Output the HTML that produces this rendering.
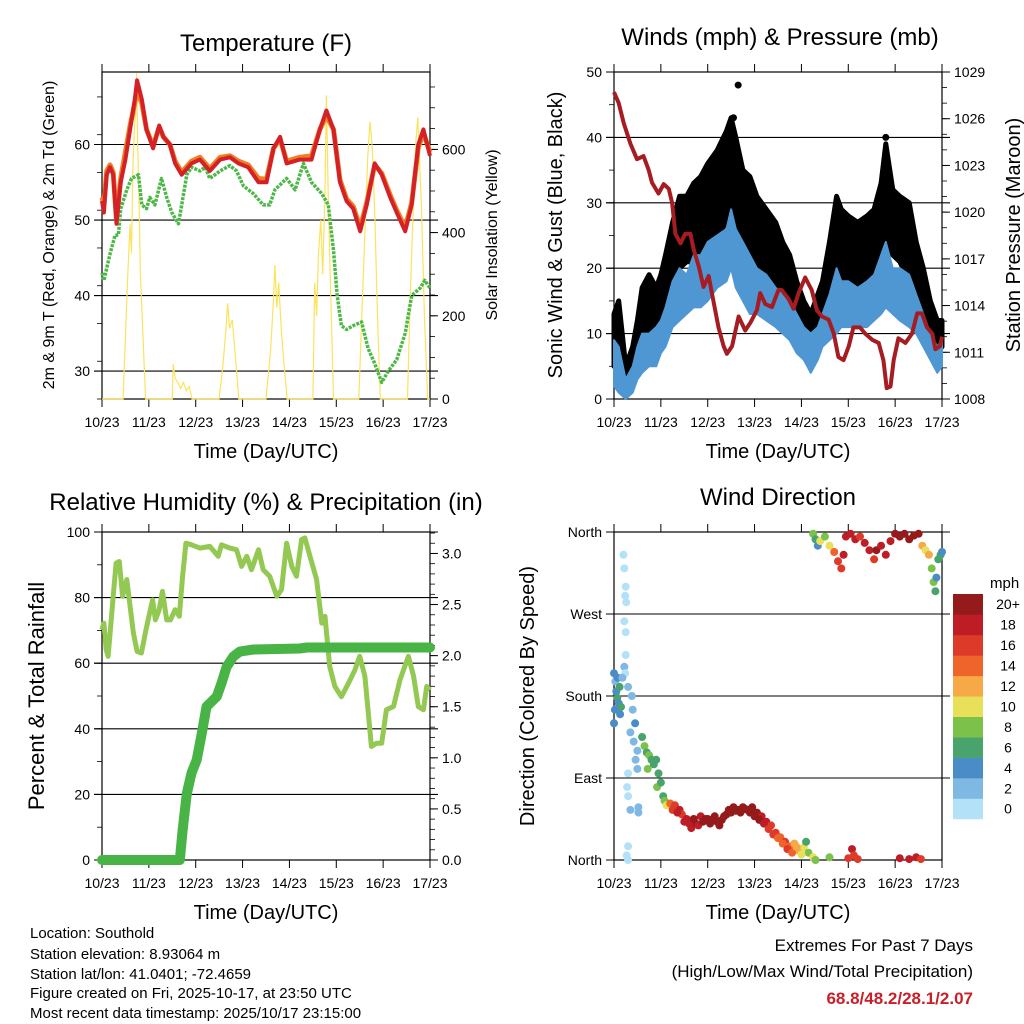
<!DOCTYPE html>
<html><head><meta charset="utf-8"><style>
html,body{margin:0;padding:0;background:#fff}
svg{display:block;font-family:"Liberation Sans",Arial,sans-serif}
</style></head><body>
<svg id="chart" width="1024" height="1024" viewBox="0 0 1024 1024" xmlns="http://www.w3.org/2000/svg">
<text x="266" y="51" font-size="24" text-anchor="middle">Temperature (F)</text>
<text x="780" y="45" font-size="24" text-anchor="middle">Winds (mph) &amp; Pressure (mb)</text>
<text x="266" y="510" font-size="24" text-anchor="middle">Relative Humidity (%) &amp; Precipitation (in)</text>
<text x="778" y="505" font-size="24" text-anchor="middle">Wind Direction</text>
<g font-size="15">
<text x="30" y="938">Location: Southold</text>
<text x="30" y="959">Station elevation: 8.93064 m</text>
<text x="30" y="979">Station lat/lon: 41.0401; -72.4659</text>
<text x="30" y="998">Figure created on Fri, 2025-10-17, at 23:50 UTC</text>
<text x="30" y="1018">Most recent data timestamp: 2025/10/17 23:15:00</text>
</g>
<g font-size="17" text-anchor="end">
<text x="973" y="951">Extremes For Past 7 Days</text>
<text x="973" y="977">(High/Low/Max Wind/Total Precipitation)</text>
<text x="973" y="1004" fill="#c8202a" font-weight="bold">68.8/48.2/28.1/2.07</text>
</g>
</svg>
<script>
// ---------- data ----------
const dayLabels=["10/23","11/23","12/23","13/23","14/23","15/23","16/23","17/23"];
const tempTime=[0,.04,.10,.17,.24,.31,.40,.50,.60,.70,.75,.85,.95,1.09,1.22,1.31,1.45,1.56,1.70,1.91,2.09,2.30,2.52,2.73,2.91,3.12,3.34,3.51,3.66,3.80,3.94,4.22,4.47,4.65,4.79,4.94,5.08,5.22,5.36,5.51,5.65,5.82,5.97,6.15,6.29,6.47,6.61,6.75,6.86,7.0];
const temp2m=[52.5,51,56,57,56,49.5,55,58,62,66,68.5,66,62,59.5,62.5,61,60,57.5,56,57.5,58,56.5,58,58.3,57.5,57,55,55,59.5,61,57.5,58,58,62,64.5,62,55,52.5,51.5,48.5,52,57.5,56,53,51,48.5,52,60,62,58.5];
const temp9m=[53,52,56.5,57.3,56.3,50,55.5,59,62.5,65.5,67,65.5,62,59.8,62.3,61,60,57.8,56.3,57.8,58.3,56.8,58.3,58.5,57.8,57.3,55.5,55.4,59.5,60.7,57.8,58.3,58.5,62,63.8,62,55.3,52.8,51.8,49,52.3,57.3,56.2,53.3,51.3,49,52.3,59.6,61.5,59];
const dewTime=[0,.04,.17,.28,.35,.40,.53,.63,.78,.85,.95,1.02,1.13,1.27,1.38,1.49,1.63,1.70,1.81,1.91,2.09,2.20,2.30,2.52,2.73,2.87,3.02,3.23,3.44,3.58,3.69,3.94,4.12,4.30,4.47,4.69,4.83,4.94,5.02,5.11,5.22,5.36,5.54,5.68,5.82,5.97,6.11,6.29,6.47,6.61,6.79,6.89,7.0];
const dewPoint=[43,42,45.5,48,48,51.5,54,55.5,56,52,51.5,53,52,55.5,53,51,49.5,52,56,57,56.5,57,55.5,56.5,57.2,56.5,54.5,53.5,52,52,54,55.5,54,57.5,55,53.5,52,46,40,36,35.5,36,36.5,33,31,28.5,30,31.5,35,40,41,42,41];
const solarTime=[0,.45,.5,.55,.6,.63,.66,.69,.72,.74,.76,.79,.82,.86,.9,.93,1.5,1.52,1.56,1.62,1.68,1.74,1.8,1.86,1.92,2.5,2.58,2.64,2.68,2.72,2.78,2.84,2.92,3.5,3.6,3.66,3.69,3.73,3.77,3.83,3.88,3.95,4.5,4.54,4.58,4.62,4.67,4.71,4.76,4.79,4.83,4.87,4.94,5.48,5.55,5.61,5.67,5.72,5.77,5.82,5.88,5.94,6.52,6.58,6.64,6.7,6.74,6.78,6.82,6.88,6.95,7.0];
const solarVal=[0,0,150,300,420,350,560,640,700,783,620,480,300,190,80,0,0,84,50,40,25,40,20,30,0,0,80,160,230,170,190,110,0,0,120,240,322,220,280,160,90,0,0,280,200,350,430,300,500,730,480,300,0,0,220,400,580,667,600,450,200,0,0,250,450,620,677,560,450,200,0,0];
const presTime=[0,.10,.21,.35,.49,.63,.74,.81,.95,1.06,1.17,1.24,1.31,1.42,1.52,1.63,1.70,1.81,1.91,2.02,2.09,2.23,2.34,2.41,2.52,2.66,2.80,2.91,3.05,3.12,3.23,3.37,3.51,3.58,3.73,3.83,3.94,4.08,4.22,4.33,4.44,4.58,4.69,4.79,4.90,5.01,5.11,5.25,5.36,5.51,5.65,5.75,5.82,5.90,5.97,6.07,6.22,6.36,6.47,6.57,6.68,6.79,6.86,6.96,7.0];
const pressure=[1027.7,1027.0,1025.7,1024.4,1023.4,1023.6,1022.7,1021.9,1021.2,1021.8,1021.5,1020.6,1018.6,1018.0,1018.6,1018.6,1017.6,1016.5,1015.2,1015.9,1014.8,1012.6,1011.4,1010.9,1011.4,1013.3,1012.4,1012.9,1013.7,1014.8,1014.1,1013.9,1015.0,1015.0,1014.4,1013.8,1014.8,1015.8,1015.0,1013.7,1013.3,1013.1,1012.2,1010.7,1010.5,1011.4,1012.6,1012.6,1012.2,1011.8,1011.6,1010.5,1008.7,1008.8,1010.5,1011.9,1011.6,1012.2,1013.5,1013.5,1012.6,1012.2,1011.2,1011.4,1012.0];
const windTime=[0,.1,.25,.4,.5,.6,.75,.9,1.0,1.1,1.25,1.4,1.55,1.7,1.85,2.0,2.2,2.4,2.5,2.6,2.75,2.9,3.05,3.25,3.45,3.6,3.75,3.9,4.05,4.2,4.35,4.45,4.6,4.75,4.85,5.0,5.2,5.4,5.55,5.7,5.8,5.95,6.1,6.3,6.45,6.6,6.75,6.9,7.0];
const windLow=[2,1,0,1,3,4,5,5,7,8,11,12,13,14,14,15,17,18,20,17,15,13,13,12,11,10,9,7,6,4,6,8,9,10,11,11,11,11,12,13,14,13,12,11,10,8,6,4,5];
const windHigh=[9,8,3,5,8,10,10,11,12,14,18,20,19,22,22,24,25,26,29,26,24,22,20,19,17,16,15,13,11,10,11,13,16,20,18,18,17,18,19,22,24,20,20,19,16,13,10,8,9];
const gustLow=[5,7,2,4,8,9,10,9,12,13,17,20,21,21,23,24,25,27,30,27,24,22,20,18,17,15,13,11,9,8,9,11,14,17,18,18,17,18,19,20,25,22,21,18,15,12,9,7,8];
const gustHigh=[13,15,5,8,12,17,19,17,19,22,27,31,31,33,34,36,38,41,43,40,35,34,31,29,27,24,22,18,15,13,16,18,24,31,29,28,27,28,29,33,39,32,31,30,24,20,15,12,12];
const gustOutlierTime=[2.65,2.55,5.8];
const gustOutlierVal=[48,43,40];
const rhTime=[0,.04,.09,.13,.18,.24,.30,.37,.44,.53,.60,.67,.75,.84,.94,1.00,1.08,1.14,1.22,1.29,1.38,1.46,1.56,1.65,1.72,1.79,1.91,2.09,2.30,2.48,2.55,2.73,2.87,2.98,3.09,3.19,3.34,3.44,3.58,3.73,3.83,3.94,4.05,4.15,4.26,4.33,4.44,4.58,4.69,4.76,4.86,4.97,5.11,5.26,5.40,5.50,5.61,5.75,5.86,5.97,6.07,6.22,6.36,6.54,6.65,6.75,6.86,6.93,7.0];
const rhVal=[70.2,72.2,64.1,62.1,70.2,80.4,90.5,91,80.4,85.5,77.3,69.2,63.6,63.1,70.2,74.3,79.3,73.2,76.3,81.9,73.2,73.2,76.3,74.3,86.5,96.6,96.1,95.1,95.6,92.6,96.1,95.1,94.6,89.5,92.6,88.5,94.6,88.5,86.5,80.4,82.4,96.6,89.5,86.5,97.7,98.2,92.6,85.5,72.2,74.3,59,52.9,49.8,53.9,58,62.1,56,34.6,35.6,35.6,45.8,46.8,54.9,62.1,56,46.8,45.8,52.9,51.9];
const rainTime=[0,1.66,1.72,1.81,1.91,2.02,2.13,2.23,2.34,2.45,2.55,2.66,2.80,2.94,3.23,4.22,4.37,7.0];
const rainVal=[0,0,0.29,0.65,0.85,0.98,1.24,1.50,1.55,1.60,1.73,1.89,1.99,2.04,2.06,2.07,2.08,2.08];
const dirTime=[
 0.20,0.22,0.25,0.24,0.26,0.22,0.25,0.25,0.22,0.24,0.30,0.28,0.30,0.35,0.52,0.52,0.30,0.27,0.30,
 0,0.03,0.05,0.07,0.10,0.12,0.15,0.02,0.08,0.0,0.13,0.18,
 0.30,0.38,0.40,0.45,0.35,0.42,0.50,0.50,0.46,
 0.60,0.65,0.70,0.75,0.80,0.85,0.72,0.90,0.95,0.92,1.00,1.05,1.08,1.12,
 1.20,1.30,1.40,1.45,1.55,1.65,1.75,1.85,1.95,2.05,2.15,2.25,2.35,2.45,2.55,2.65,2.75,2.85,2.95,3.05,3.15,3.25,3.35,3.45,3.55,3.65,3.75,3.85,3.95,4.05,4.15,4.25,4.30,4.10,4.60,
 5.00,5.08,5.12,5.20,6.10,6.30,6.45,6.55,
 4.25,4.30,4.35,4.40,4.50,4.60,4.70,4.78,4.85,4.90,4.95,5.05,5.15,5.25,5.35,5.45,5.55,5.60,5.70,5.80,5.90,6.00,6.10,6.20,6.30,6.40,6.50,6.58,6.65,6.72,6.78,6.82,6.86,6.88,6.92,6.97,7.00,
 1.25,1.35,1.5,1.6,1.7,1.8,1.9,2.0,2.1,2.2,2.3,2.4,2.5,2.6,2.7,2.8,2.9,3.0,3.1,3.2,3.3,3.4,3.5,3.6,3.7,3.8,3.9,4.0];
const dirDeg=[
 335,320,300,290,283,262,250,225,212,205,95,80,70,55,58,52,15,5,0,
 205,196,185,178,172,190,168,165,200,150,160,200,
 190,180,165,150,140,130,120,100,110,
 135,125,118,115,110,105,100,110,95,80,85,70,65,60,
 62,60,55,50,45,35,40,48,45,40,48,38,48,55,58,55,58,55,58,52,48,42,38,30,25,20,15,18,10,14,8,3,0,20,3,
 2,12,5,1,2,1,3,1,
 358,352,345,350,355,345,338,328,320,335,355,358,352,355,348,340,330,340,345,335,350,358,355,358,352,356,358,345,340,335,320,305,295,310,330,335,338,
 55,52,42,40,45,38,42,45,44,42,44,50,52,54,52,56,52,48,44,40,34,28,24,18,12,8,14,6];
const dirSpeed=[
 0,0,1,0,0,1,0,1,2,1,1,1,1,2,2,2,0,0,0,
 4,3,5,6,5,6,7,4,4,4,5,3,
 2,3,3,4,2,3,3,2,3,
 7,8,7,8,6,7,8,6,7,9,7,6,8,10,
 14,16,18,16,18,18,20,18,20,20,20,20,20,20,20,20,20,20,20,20,18,18,16,16,14,16,14,12,12,10,8,10,8,6,8,
 16,18,16,16,18,18,18,16,
 8,6,4,10,8,10,14,16,16,18,18,18,18,16,18,18,16,20,18,18,18,20,20,20,20,20,20,12,10,12,8,8,6,4,6,6,4,
 16,18,18,18,20,18,20,20,20,20,20,20,20,20,20,20,20,20,20,18,16,16,14,14,16,14,12,10];
const speedBins=["0","2","4","6","8","10","12","14","16","18","20+"];
const binColors=["#b3e2f8","#7fb9e3","#4a8cc6","#48a36d","#7cc24a","#e7e058","#f6a946","#ef642b","#dd3a29","#bf1d25","#951a1c"];

// ---------- helpers ----------
const NS="http://www.w3.org/2000/svg";
const svg=document.getElementById('chart');
function mk(tag,attrs,parent){const e=document.createElementNS(NS,tag);for(const k in attrs)e.setAttribute(k,attrs[k]);(parent||svg).appendChild(e);return e;}
function txt(s,attrs,parent){const e=mk('text',attrs,parent);e.textContent=s;return e;}
function xScale(p,d){return p.x0+(p.x1-p.x0)*d/7;}
function yScale(p,v,lo,hi){return p.y1-(p.y1-p.y0)*(v-lo)/(hi-lo);}
function pathFrom(p,ts,vs,lo,hi){return ts.map((t,i)=>(i?'L':'M')+xScale(p,t).toFixed(1)+','+yScale(p,vs[i],lo,hi).toFixed(1)).join('');}
function bandFrom(p,ts,a,b,lo,hi){let d=ts.map((t,i)=>(i?'L':'M')+xScale(p,t).toFixed(1)+','+yScale(p,b[i],lo,hi).toFixed(1)).join('');for(let i=ts.length-1;i>=0;i--)d+='L'+xScale(p,ts[i]).toFixed(1)+','+yScale(p,a[i],lo,hi).toFixed(1);return d+'Z';}

function frame(p,name,leftTicks,leftLo,leftHi,leftMinor,leftLab,rightTicks,rightLo,rightHi,rightMinor,rightLab,gridLines){
  const g=mk('g',{},svg);
  
  
  gridLines.forEach(v=>{const y=yScale(p,v,leftLo,leftHi);mk('line',{x1:p.x0-8,x2:p.x1+8,y1:y,y2:y,stroke:'#000','stroke-width':1.1},g);});
  mk('rect',{x:p.x0,y:p.y0,width:p.x1-p.x0,height:p.y1-p.y0,fill:'none',stroke:'#000','stroke-width':1.2},g);
  for(let d=0;d<=7;d++){const x=xScale(p,d);
    mk('line',{x1:x,x2:x,y1:p.y0-8,y2:p.y0,stroke:'#000','stroke-width':1},g);
    mk('line',{x1:x,x2:x,y1:p.y1,y2:p.y1+8,stroke:'#000','stroke-width':1},g);
    const t=txt(dayLabels[d],{x:x,y:p.y1+28,'font-size':14,'text-anchor':'middle'},g);
    
    
  }
  if(leftMinor)for(let v=leftLo;v<=leftHi+1e-9;v+=leftMinor){const y=yScale(p,v,leftLo,leftHi);mk('line',{x1:p.x0-5,x2:p.x0,y1:y,y2:y,stroke:'#000','stroke-width':0.8},g);}
  leftTicks.forEach((v,i)=>{const y=yScale(p,v,leftLo,leftHi);mk('line',{x1:p.x0-8,x2:p.x0,y1:y,y2:y,stroke:'#000'},g);
    const t=txt(leftLab[i],{x:p.x0-12,y:y+5,'font-size':14,'text-anchor':'end'},g);
    
    });
  if(rightTicks){
    if(rightMinor)for(let v=rightLo;v<=rightHi+1e-9;v+=rightMinor){const y=yScale(p,v,rightLo,rightHi);mk('line',{x1:p.x1,x2:p.x1+5,y1:y,y2:y,stroke:'#000','stroke-width':0.8},g);}
    rightTicks.forEach((v,i)=>{const y=yScale(p,v,rightLo,rightHi);mk('line',{x1:p.x1,x2:p.x1+8,y1:y,y2:y,stroke:'#000'},g);
      const t=txt(rightLab[i],{x:p.x1+12,y:y+5,'font-size':14,'text-anchor':'start'},g);
      
      });
  }
  const xt=txt('Time (Day/UTC)',{x:(p.x0+p.x1)/2,y:p.y1+59,'font-size':20,'text-anchor':'middle'},g);
  
  
  return g;
}
function vtitle(s,x,y,size,name){const t=txt(s,{x:x,y:y,'font-size':size,'text-anchor':'middle',transform:'rotate(-90 '+x+' '+y+')'});
  
  }

// ---------- panel 1 temperature ----------
const P1={x0:102,x1:430,y0:72,y1:399};
const T_LO=26.3,T_HI=69.6,S_LO=0,S_HI=786;
frame(P1,'temperature',[30,40,50,60],T_LO,T_HI,5,["30","40","50","60"],[0,200,400,600],S_LO,S_HI,50,["0","200","400","600"],[30,40,50,60]);
{const g=mk('g',{});
 const s=mk('path',{d:pathFrom(P1,solarTime,solarVal,S_LO,S_HI),fill:'none',stroke:'#fbe35c','stroke-width':1.2},g);
 
 const dw=mk('path',{d:pathFrom(P1,dewTime,dewPoint,T_LO,T_HI),fill:'none',stroke:'#4db848','stroke-width':3.5,'stroke-dasharray':'3 1.2','stroke-linejoin':'round'},g);
 
 const o=mk('path',{d:pathFrom(P1,tempTime,temp9m,T_LO,T_HI),fill:'none',stroke:'#f07f22','stroke-width':5,'stroke-linejoin':'round'},g);
 
 const r=mk('path',{d:pathFrom(P1,tempTime,temp2m,T_LO,T_HI),fill:'none',stroke:'#d42027','stroke-width':4,'stroke-linejoin':'round'},g);
 }
vtitle('2m & 9m T (Red, Orange) & 2m Td (Green)',54,235,16,'temperature-y-title');
vtitle('Solar Insolation (Yellow)',497,235,16,'solar-y-title');

// ---------- panel 2 winds ----------
const P2={x0:614,x1:942,y0:72,y1:399};
frame(P2,'winds',[0,10,20,30,40,50],0,50,5,["0","10","20","30","40","50"],[1008,1011,1014,1017,1020,1023,1026,1029],1008,1029,1,["1008","1011","1014","1017","1020","1023","1026","1029"],[10,20,30,40,50]);
{const g=mk('g',{});
 const gb=mk('path',{d:bandFrom(P2,windTime,gustLow,gustHigh,0,50),fill:'#000',stroke:'#000','stroke-width':5,'stroke-linejoin':'round'},g);
 
 gustOutlierTime.forEach((t,i)=>{const c=mk('circle',{cx:xScale(P2,t),cy:yScale(P2,gustOutlierVal[i],0,50),r:3.5,fill:'#000'},g);
  });
 const wb=mk('path',{d:bandFrom(P2,windTime,windLow,windHigh,0,50),fill:'#4f97d3',stroke:'#4f97d3','stroke-width':2,'stroke-linejoin':'round'},g);
 
 const pr=mk('path',{d:pathFrom(P2,presTime,pressure,1008,1029),fill:'none',stroke:'#a51d22','stroke-width':4,'stroke-linejoin':'round'},g);
 }
vtitle('Sonic Wind & Gust (Blue, Black)',562,235,20,'wind-y-title');
vtitle('Station Pressure (Maroon)',1020,235,20,'pressure-y-title');

// ---------- panel 3 humidity ----------
const P3={x0:102,x1:430,y0:532,y1:860};
const R_HI=3.21;
frame(P3,'humidity',[0,20,40,60,80,100],0,100,10,["0","20","40","60","80","100"],[0,0.5,1,1.5,2,2.5,3],0,R_HI,0.1,["0.0","0.5","1.0","1.5","2.0","2.5","3.0"],[20,40,60,80,100]);
{const g=mk('g',{});
 const rh=mk('path',{d:pathFrom(P3,rhTime,rhVal,0,100),fill:'none',stroke:'#93c953','stroke-width':5,'stroke-linejoin':'round'},g);
 
 const rn=mk('path',{d:pathFrom(P3,rainTime,rainVal,0,R_HI),fill:'none',stroke:'#48b446','stroke-width':10,'stroke-linejoin':'round','stroke-linecap':'round'},g);
 }
vtitle('Percent & Total Rainfall',44,696,22,'humidity-y-title');

// ---------- panel 4 wind direction ----------
const P4={x0:614,x1:942,y0:532,y1:860};
frame(P4,'direction',[0,90,180,270,360],0,360,0,["North","East","South","West","North"],null,0,0,0,null,[90,180,270,360]);
{const g=mk('g',{});
 const n=Math.min(dirTime.length,dirDeg.length,dirSpeed.length);
 for(let i=0;i<n;i++){const b=Math.min(10,Math.floor(dirSpeed[i]/2));
  const c=mk('circle',{cx:xScale(P4,dirTime[i]).toFixed(1),cy:yScale(P4,dirDeg[i],0,360).toFixed(1),r:4,fill:binColors[b]},g);
  
  }}
vtitle('Direction (Colored By Speed)',534,696,20,'direction-y-title');
{const g=mk('g',{});
 const mph=txt('mph',{x:990,y:588,'font-size':15},g);
 
 const top=594,h=20.45;
 for(let i=0;i<11;i++){const y=top+(10-i)*h;
  const r=mk('rect',{x:953,y:y,width:30,height:h+0.3,fill:binColors[i]},g);
  
  const t=txt(speedBins[i],{x:1008,y:y+h/2+5,'font-size':14,'text-anchor':'middle'},g);
  }}
</script>
</body></html>
